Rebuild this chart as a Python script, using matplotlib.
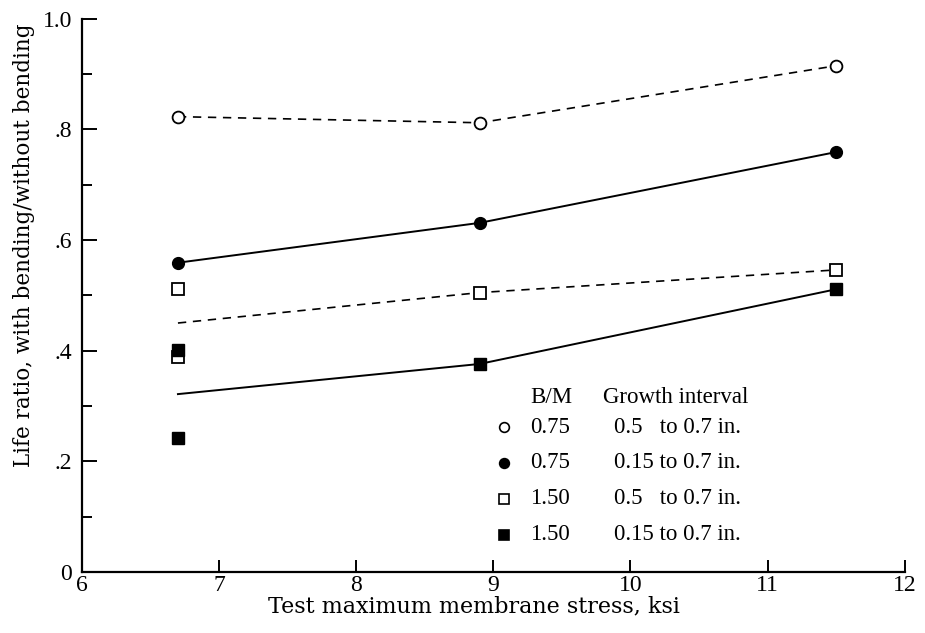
import numpy as np
import matplotlib.pyplot as plt
from matplotlib.ticker import MultipleLocator

plt.rcParams['font.family'] = ['Liberation Serif', 'DejaVu Serif']

# test stress levels, ksi
stress = [6.7, 8.9, 11.5]

# B/M = 0.75
open_circ = [0.823, 0.812, 0.915]     # 0.5 to 0.7 in.
fill_circ = [0.559, 0.631, 0.759]     # 0.15 to 0.7 in.

# B/M = 1.50 (two specimens at 6.7 ksi)
open_sq_x = [6.7, 6.7, 8.9, 11.5]
open_sq_y = [0.512, 0.388, 0.505, 0.546]
fill_sq_x = [6.7, 6.7, 8.9, 11.5]
fill_sq_y = [0.401, 0.242, 0.376, 0.511]

y_ticks = [0, 0.2, 0.4, 0.6, 0.8, 1.0]
y_ticklabels = ['0', '.2', '.4', '.6', '.8', '1.0']
x_ticks = [6, 7, 8, 9, 10, 11, 12]


def mean_by_x(xs, ys):
    xs = np.array(xs); ys = np.array(ys)
    ux = np.unique(xs)
    return ux, np.array([ys[xs == u].mean() for u in ux])


fig = plt.figure(figsize=(9.25, 6.33), dpi=100)
ax = fig.add_axes([0.0886, 0.0964, 0.8894, 0.874])

dash = (0, (5, 4))
ax.plot(stress, open_circ, color='black', lw=1.2, ls=dash, zorder=1)
ax.plot(stress, fill_circ, color='black', lw=1.4, zorder=1)
mx, my = mean_by_x(open_sq_x, open_sq_y)
ax.plot(mx, my, color='black', lw=1.2, ls=dash, zorder=1)
mx, my = mean_by_x(fill_sq_x, fill_sq_y)
ax.plot(mx, my, color='black', lw=1.4, zorder=1)

ax.plot(stress, open_circ, 'o', ms=8.5, mfc='white', mec='black', mew=1.3, ls='none', zorder=3)
ax.plot(stress, fill_circ, 'o', ms=8.5, mfc='black', mec='black', ls='none', zorder=3)
ax.plot(open_sq_x, open_sq_y, 's', ms=8, mfc='white', mec='black', mew=1.3, ls='none', zorder=3)
ax.plot(fill_sq_x, fill_sq_y, 's', ms=8, mfc='black', mec='black', ls='none', zorder=4)

ax.set_xlim(6, 12)
ax.set_ylim(0, 1.0)
ax.set_xticks(x_ticks)
ax.set_xticklabels([str(v) for v in x_ticks])
ax.set_yticks(y_ticks)
ax.set_yticklabels(y_ticklabels)
ax.yaxis.set_minor_locator(MultipleLocator(0.1))

for s in ['top', 'right']:
    ax.spines[s].set_visible(False)
for s in ['left', 'bottom']:
    ax.spines[s].set_linewidth(1.6)

ax.tick_params(axis='x', which='major', direction='in', length=9, width=1.4,
               labelsize=17, pad=2)
ax.tick_params(axis='y', which='major', direction='in', length=11, width=1.4,
               labelsize=17, pad=7)
ax.tick_params(axis='y', which='minor', direction='in', length=7, width=1.4)

ax.set_xlabel('Test maximum membrane stress, ksi', fontsize=16,
              family='DejaVu Serif')
ax.set_ylabel('Life ratio, with bending/without bending', fontsize=15.5,
              family='DejaVu Serif')
ax.xaxis.set_label_coords(0.476, -0.043)
ax.yaxis.set_label_coords(-0.057, 0.59)

# key
rows = [('o', 'white', '0.75', '0.5   to 0.7 in.'),
        ('o', 'black', '0.75', '0.15 to 0.7 in.'),
        ('s', 'white', '1.50', '0.5   to 0.7 in.'),
        ('s', 'black', '1.50', '0.15 to 0.7 in.')]
ax.text(9.27, 0.315, 'B/M', fontsize=16.5, va='center', ha='left')
ax.text(9.80, 0.315, 'Growth interval', fontsize=16.5, va='center', ha='left')
for i, (m, fc, bm, gi) in enumerate(rows):
    y = 0.262 - i * 0.065
    ax.plot(9.08, y, m, ms=7, mfc=fc, mec='black', mew=1.2, ls='none')
    ax.text(9.27, y, bm, fontsize=16.5, va='center', ha='left')
    ax.text(9.88, y, gi, fontsize=16.5, va='center', ha='left')

fig.savefig('out.png', dpi=100)
